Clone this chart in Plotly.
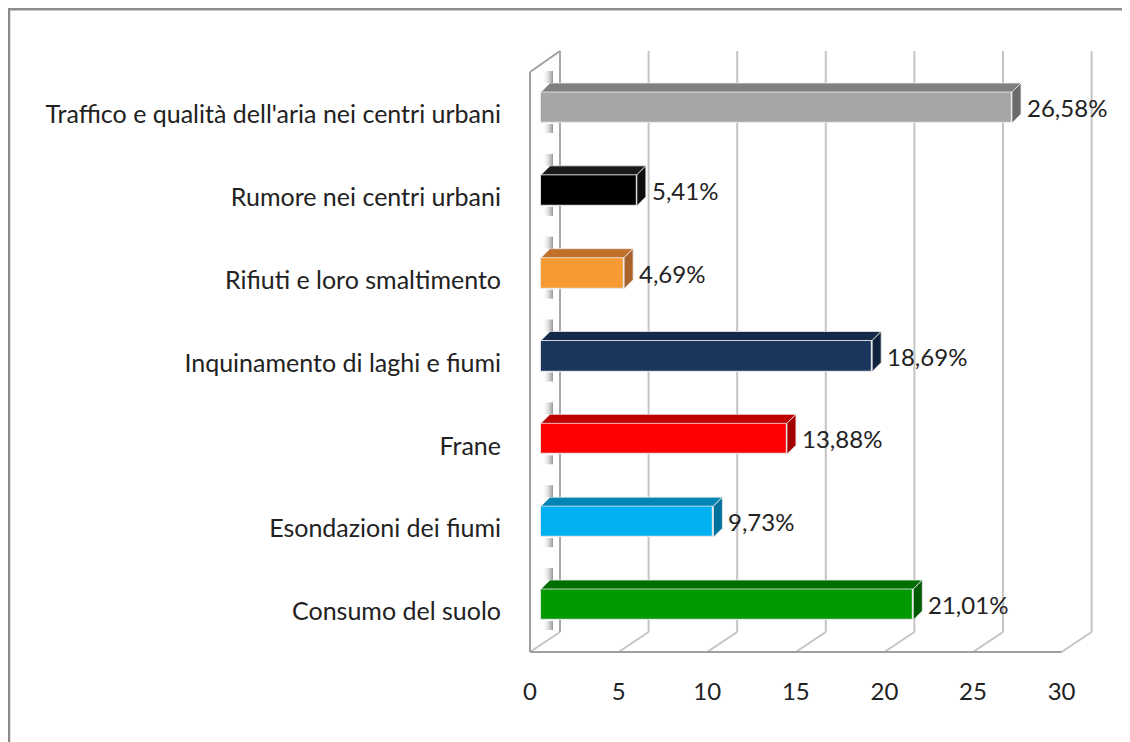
import plotly.graph_objects as go

# ---------------- data ----------------
categories = [
    "Consumo del suolo",
    "Esondazioni dei fiumi",
    "Frane",
    "Inquinamento di laghi e fiumi",
    "Rifiuti e loro smaltimento",
    "Rumore nei centri urbani",
    "Traffico e qualità dell'aria nei centri urbani",
]
values = [21.01, 9.73, 13.88, 18.69, 4.69, 5.41, 26.58]
x_ticks = [0, 5, 10, 15, 20, 25, 30]

front_colors = ["#009900", "#00B0F0", "#FF0000", "#1B365D", "#F79A34", "#000000", "#A6A6A6"]
top_colors = ["#006E00", "#0085B5", "#C00000", "#142A4A", "#C0702A", "#1A1A1A", "#808080"]
side_colors = ["#005A00", "#00719B", "#A50000", "#10223D", "#A8622A", "#0D0D0D", "#6B6B6B"]

# ---------------- geometry (screen pixels) ----------------
W, H = 1130, 742
BODY = 8                                     # page body margin offset
PL, PR, PT, PB = 520, 1100, 40, 660          # plot area in screen px
X0_PX = 541                                  # px of value 0 (bar front face)
Y0_PX = 604.5                                # px centre of first category
S = 17.72                                    # px per unit
C = 82.83                                    # px per category


def dxu(px):
    return px / S


def dyu(px):
    return px / C


def Yu(py):
    return (Y0_PX - py) / C


def xp(px):
    return (px - PL) / (PR - PL)


def yp(py):
    return (PB - py) / (PB - PT)


FONT = "Lato, Calibri, Carlito, sans-serif"
TXT = "#222222"

idx = list(range(len(categories)))
half = dyu(15.5)
ddx, ddy = dxu(9), dyu(9)

fig = go.Figure()

# front faces
fig.add_trace(go.Bar(
    y=idx, x=values, orientation="h", width=2 * half,
    marker=dict(color=front_colors, line=dict(color="rgba(235,235,235,0.9)", width=1.2)),
    hoverinfo="skip", showlegend=False,
))

# 3D top and side faces + wall shadows
for i, v in enumerate(values):
    yt = i + half
    yb = i - half
    fig.add_trace(go.Scatter(
        x=[0, v, v + ddx, ddx, 0], y=[yt, yt, yt + ddy, yt + ddy, yt],
        fill="toself", fillcolor=top_colors[i], mode="lines",
        line=dict(color="rgba(235,235,235,0.8)", width=1), hoverinfo="skip", showlegend=False,
    ))
    fig.add_trace(go.Scatter(
        x=[v, v, v + ddx, v + ddx, v], y=[yb, yt, yt + ddy, yb + ddy, yb],
        fill="toself", fillcolor=side_colors[i], mode="lines",
        line=dict(color="rgba(235,235,235,0.8)", width=1), hoverinfo="skip", showlegend=False,
    ))
    # shadow patches on the left wall
    for ya, yb2 in [(yt + ddy, yt + ddy + dyu(12)), (yb - dyu(1), yb - dyu(10))]:
        fig.add_trace(go.Scatter(
            x=[dxu(1), dxu(12), dxu(12), dxu(1), dxu(1)], y=[ya, ya, yb2, yb2, ya],
            fill="toself", mode="lines", line=dict(width=0),
            fillgradient=dict(type="horizontal",
                              colorscale=[[0, "rgba(255,255,255,0)"], [1, "rgba(130,130,130,0.85)"]]),
            hoverinfo="skip", showlegend=False,
        ))

# ---------------- walls / floor / gridlines ----------------
shapes = []
back_off = dxu(560 - X0_PX)
front_off = dxu(530 - X0_PX)
y_floor_front, y_floor_back = Yu(652), Yu(632)
y_grid_top, y_wall_front_top = Yu(51), Yu(72)

for t in x_ticks:
    shapes.append(dict(type="line", xref="x", yref="y", layer="below",
                       x0=t + back_off, x1=t + back_off, y0=y_floor_back, y1=y_grid_top,
                       line=dict(color="#C4C4C4", width=2)))
    shapes.append(dict(type="line", xref="x", yref="y", layer="below",
                       x0=t + front_off, x1=t + back_off, y0=y_floor_front, y1=y_floor_back,
                       line=dict(color="#C4C4C4", width=2)))
# floor front edge
shapes.append(dict(type="line", xref="x", yref="y", layer="below",
                   x0=x_ticks[0] + front_off, x1=x_ticks[-1] + front_off,
                   y0=y_floor_front, y1=y_floor_front, line=dict(color="#A0A0A0", width=2)))
# left wall outline
shapes.append(dict(type="line", xref="x", yref="y", layer="below",
                   x0=front_off, x1=front_off, y0=y_floor_front, y1=y_wall_front_top,
                   line=dict(color="#A0A0A0", width=2)))
shapes.append(dict(type="line", xref="x", yref="y", layer="below",
                   x0=front_off, x1=back_off, y0=y_wall_front_top, y1=y_grid_top,
                   line=dict(color="#A0A0A0", width=2)))
shapes.append(dict(type="line", xref="x", yref="y", layer="below",
                   x0=back_off, x1=back_off, y0=y_floor_back, y1=y_grid_top,
                   line=dict(color="#A8A8A8", width=2)))

# outer chart border (top and left visible)
shapes.append(dict(type="line", xref="paper", yref="paper",
                   x0=xp(9), x1=xp(W + 20), y0=yp(9), y1=yp(9),
                   line=dict(color="#8C8C8C", width=3)))
shapes.append(dict(type="line", xref="paper", yref="paper",
                   x0=xp(9), x1=xp(9), y0=yp(8), y1=yp(H + 20),
                   line=dict(color="#8C8C8C", width=2.5)))

# ---------------- value labels ----------------
annotations = []
for i, v in enumerate(values):
    annotations.append(dict(
        x=v, y=i, xref="x", yref="y", xanchor="left", yanchor="middle",
        xshift=13, yshift=0, showarrow=False,
        text=f"{v:.2f}".replace(".", ",") + "%",
        font=dict(family=FONT, size=24, color=TXT),
    ))

fig.update_layout(
    width=W, height=H,
    margin=dict(l=PL - BODY, r=W - (PR - BODY), t=PT - BODY, b=H - (PB - BODY)),
    paper_bgcolor="white", plot_bgcolor="rgba(0,0,0,0)",
    shapes=shapes, annotations=annotations,
    showlegend=False, bargap=0,
    xaxis=dict(range=[(PL - X0_PX) / S, (PR - X0_PX) / S],
               tickmode="array", tickvals=x_ticks, ticktext=[str(t) for t in x_ticks],
               showgrid=False, zeroline=False, showline=False, ticks="",
               ticklabelshift=-11, ticklabelstandoff=15,
               tickfont=dict(family=FONT, size=24, color=TXT)),
    yaxis=dict(range=[Yu(PB), Yu(PT)],
               tickmode="array", tickvals=idx, ticktext=categories,
               showgrid=False, zeroline=False, showline=False, ticks="",
               ticklabelshift=7, ticklabelstandoff=18,
               tickfont=dict(family=FONT, size=25, color=TXT)),
)

fig.write_html("out.html")
